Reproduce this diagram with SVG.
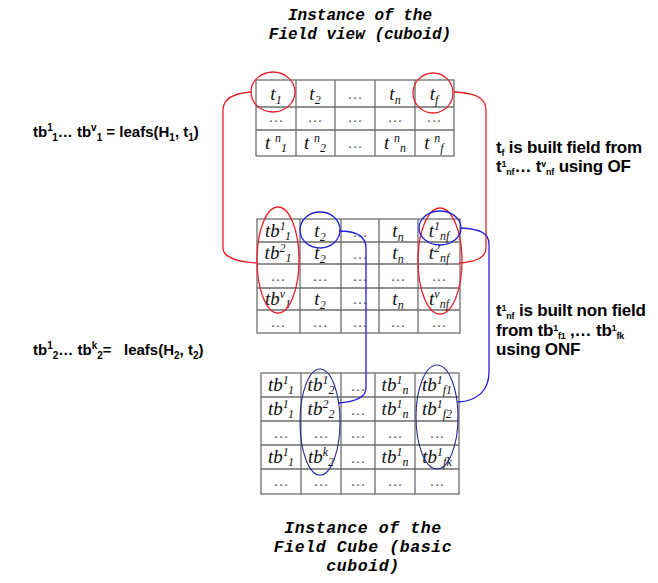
<svg xmlns="http://www.w3.org/2000/svg" width="658" height="583" viewBox="0 0 658 583">
<style>
.title{font-family:"Liberation Mono","Courier New",monospace;font-weight:bold;font-style:italic;font-size:16px;fill:#000;text-anchor:middle}
.tb{font-size:16.5px;letter-spacing:0.6px}
.lbl{font-family:"Liberation Sans",Arial,sans-serif;font-weight:bold;font-size:15px;fill:#000;white-space:pre}
.lr{font-size:17px;letter-spacing:-0.2px}
.s{font-size:10px}
.lr .s{font-size:9px}
.grid{fill:#fff;stroke:#6e6e6e;stroke-width:1.3}
.cell{font-family:"Liberation Serif","Times New Roman",serif;font-style:italic;font-size:19px;fill:#111;text-anchor:middle}
.cs{font-size:12px}
.dots{font-family:"Liberation Serif","Times New Roman",serif;font-size:15px;fill:#555;text-anchor:middle}
.red{fill:none;stroke:#e8202a;stroke-width:1.3}
.blue{fill:none;stroke:#2020d8;stroke-width:1.3}
.navy{fill:none;stroke:#2a2a90;stroke-width:1.1}
</style>

<g id="title-top">
<text class="title" x="360" y="20">Instance of the</text>
<text class="title" x="360" y="39">Field view (cuboid)</text>
</g>
<g id="title-bottom">
<text class="title tb" x="363" y="533">Instance of the</text>
<text class="title tb" x="363" y="552">Field Cube (basic</text>
<text class="title tb" x="363" y="571">cuboid)</text>
</g>

<g id="label-leafs1">
<text class="lbl" x="33" y="137">tb<tspan class="s" dy="-6">1</tspan><tspan class="s" dy="10">1</tspan><tspan dy="-4">… tb</tspan><tspan class="s" dy="-6">v</tspan><tspan class="s" dy="10">1</tspan><tspan dy="-4"> = leafs(H</tspan><tspan class="s" dy="4">1</tspan><tspan dy="-4">, t</tspan><tspan class="s" dy="4">1</tspan><tspan dy="-4">)</tspan></text>
</g>
<g id="label-leafs2">
<text class="lbl" x="33" y="355">tb<tspan class="s" dy="-6">1</tspan><tspan class="s" dy="10">2</tspan><tspan dy="-4">… tb</tspan><tspan class="s" dy="-6">k</tspan><tspan class="s" dy="10">2</tspan><tspan dy="-4">=   leafs(H</tspan><tspan class="s" dy="4">2</tspan><tspan dy="-4">, t</tspan><tspan class="s" dy="4">2</tspan><tspan dy="-4">)</tspan></text>
</g>
<g id="label-of">
<text class="lbl lr" x="496" y="153">t<tspan class="s" dy="3">f</tspan><tspan dy="-3"> is built field from</tspan></text>
<text class="lbl lr" x="496" y="172">t<tspan class="s" dy="-5">1</tspan><tspan class="s" dy="8">nf</tspan><tspan dy="-3">… t</tspan><tspan class="s" dy="-5">v</tspan><tspan class="s" dy="8">nf</tspan><tspan dy="-3"> using OF</tspan></text>
</g>
<g id="label-onf">
<text class="lbl lr" x="496" y="316">t<tspan class="s" dy="-5">1</tspan><tspan class="s" dy="8">nf</tspan><tspan dy="-3"> is built non field</tspan></text>
<text class="lbl lr" x="496" y="336">from tb<tspan class="s" dy="-5">1</tspan><tspan class="s" dy="8">f1</tspan><tspan dy="-3"> ,… tb</tspan><tspan class="s" dy="-5">1</tspan><tspan class="s" dy="8">fk</tspan></text>
<text class="lbl lr" x="496" y="355">using ONF</text>
</g>

<g id="table-top">
<rect class="grid" x="256" y="80" width="198" height="76"/>
<path class="grid" d="M256,107H454M256,130H454M296,80V156M335,80V156M375,80V156M415,80V156"/>
<text class="cell" x="276" y="100">t<tspan class="cs" dy="4">1</tspan></text>
<text class="cell" x="315" y="100">t<tspan class="cs" dy="4">2</tspan></text>
<text class="dots" x="355" y="99">…</text>
<text class="cell" x="395" y="100">t<tspan class="cs" dy="4">n</tspan></text>
<text class="cell" x="434" y="100">t<tspan class="cs" dy="4">f</tspan></text>
<text class="dots" x="276" y="122">…</text>
<text class="dots" x="315" y="122">…</text>
<text class="dots" x="355" y="122">…</text>
<text class="dots" x="395" y="122">…</text>
<text class="dots" x="434" y="122">…</text>
<text class="cell" x="276" y="149">t <tspan class="cs" dy="-7">n</tspan><tspan class="cs" dy="10">1</tspan></text>
<text class="cell" x="315" y="149">t <tspan class="cs" dy="-7">n</tspan><tspan class="cs" dy="10">2</tspan></text>
<text class="dots" x="355" y="148">…</text>
<text class="cell" x="395" y="149">t <tspan class="cs" dy="-7">n</tspan><tspan class="cs" dy="10">n</tspan></text>
<text class="cell" x="434" y="149">t <tspan class="cs" dy="-7">n</tspan><tspan class="cs" dy="10">f</tspan></text>
</g>

<g id="table-middle">
<rect class="grid" x="257" y="219" width="203" height="114"/>
<path class="grid" d="M257,242H460M257,264H460M257,288H460M257,310H460M300,219V333M341,219V333M379,219V333M418,219V333"/>
<text class="cell" x="278" y="237">tb<tspan class="cs" dy="-7">1</tspan><tspan class="cs" dy="10">1</tspan></text>
<text class="cell" x="320" y="237">t<tspan class="cs" dy="4">2</tspan></text>
<text class="dots" x="360" y="237">…</text>
<text class="cell" x="398" y="237">t<tspan class="cs" dy="4">n</tspan></text>
<text class="cell" x="439" y="237">t<tspan class="cs" dy="-7">1</tspan><tspan class="cs" dy="10">nf</tspan></text>
<text class="cell" x="278" y="259">tb<tspan class="cs" dy="-7">2</tspan><tspan class="cs" dy="10">1</tspan></text>
<text class="cell" x="320" y="259">t<tspan class="cs" dy="4">2</tspan></text>
<text class="dots" x="360" y="259">…</text>
<text class="cell" x="398" y="259">t<tspan class="cs" dy="4">n</tspan></text>
<text class="cell" x="439" y="259">t<tspan class="cs" dy="-7">2</tspan><tspan class="cs" dy="10">nf</tspan></text>
<text class="dots" x="278" y="281">…</text>
<text class="dots" x="320" y="281">…</text>
<text class="dots" x="360" y="281">…</text>
<text class="dots" x="398" y="281">…</text>
<text class="dots" x="439" y="281">…</text>
<text class="cell" x="278" y="305">tb<tspan class="cs" dy="-7">v</tspan><tspan class="cs" dy="10">1</tspan></text>
<text class="cell" x="320" y="305">t<tspan class="cs" dy="4">2</tspan></text>
<text class="dots" x="360" y="304">…</text>
<text class="cell" x="398" y="305">t<tspan class="cs" dy="4">n</tspan></text>
<text class="cell" x="439" y="305">t<tspan class="cs" dy="-7">v</tspan><tspan class="cs" dy="10">nf</tspan></text>
<text class="dots" x="278" y="327">…</text>
<text class="dots" x="320" y="327">…</text>
<text class="dots" x="360" y="327">…</text>
<text class="dots" x="398" y="327">…</text>
<text class="dots" x="439" y="327">…</text>
</g>

<g id="table-bottom">
<rect class="grid" x="261" y="373" width="198" height="121"/>
<path class="grid" d="M261,397H459M261,421H459M261,445H459M261,469H459M301,373V494M341,373V494M375,373V494M415,373V494"/>
<text class="cell" x="281" y="391">tb<tspan class="cs" dy="-7">1</tspan><tspan class="cs" dy="10">1</tspan></text>
<text class="cell" x="321" y="391">tb<tspan class="cs" dy="-7">1</tspan><tspan class="cs" dy="10">2</tspan></text>
<text class="dots" x="358" y="391">…</text>
<text class="cell" x="395" y="391">tb<tspan class="cs" dy="-7">1</tspan><tspan class="cs" dy="10">n</tspan></text>
<text class="cell" x="437" y="391">tb<tspan class="cs" dy="-7">1</tspan><tspan class="cs" dy="10">f1</tspan></text>
<text class="cell" x="281" y="415">tb<tspan class="cs" dy="-7">1</tspan><tspan class="cs" dy="10">1</tspan></text>
<text class="cell" x="321" y="415">tb<tspan class="cs" dy="-7">2</tspan><tspan class="cs" dy="10">2</tspan></text>
<text class="dots" x="358" y="415">…</text>
<text class="cell" x="395" y="415">tb<tspan class="cs" dy="-7">1</tspan><tspan class="cs" dy="10">n</tspan></text>
<text class="cell" x="437" y="415">tb<tspan class="cs" dy="-7">1</tspan><tspan class="cs" dy="10">f2</tspan></text>
<text class="dots" x="281" y="438">…</text>
<text class="dots" x="321" y="438">…</text>
<text class="dots" x="358" y="438">…</text>
<text class="dots" x="395" y="438">…</text>
<text class="dots" x="437" y="438">…</text>
<text class="cell" x="281" y="463">tb<tspan class="cs" dy="-7">1</tspan><tspan class="cs" dy="10">1</tspan></text>
<text class="cell" x="321" y="463">tb<tspan class="cs" dy="-7">k</tspan><tspan class="cs" dy="10">2</tspan></text>
<text class="dots" x="358" y="463">…</text>
<text class="cell" x="395" y="463">tb<tspan class="cs" dy="-7">1</tspan><tspan class="cs" dy="10">n</tspan></text>
<text class="cell" x="437" y="463">tb<tspan class="cs" dy="-7">1</tspan><tspan class="cs" dy="10">fk</tspan></text>
<text class="dots" x="281" y="486">…</text>
<text class="dots" x="321" y="486">…</text>
<text class="dots" x="358" y="486">…</text>
<text class="dots" x="395" y="486">…</text>
<text class="dots" x="437" y="486">…</text>
</g>

<g id="ellipses">
<ellipse class="red" cx="273" cy="92" rx="22" ry="20"/>
<ellipse class="red" cx="433" cy="93" rx="20" ry="20"/>
<ellipse class="red" cx="278" cy="260" rx="21" ry="53"/>
<ellipse class="red" cx="440" cy="261" rx="22" ry="53"/>
<ellipse class="blue" cx="320" cy="230" rx="20" ry="18"/>
<ellipse class="blue" cx="440" cy="228" rx="21" ry="17"/>
<ellipse class="navy" cx="320" cy="422" rx="20" ry="53"/>
<ellipse class="navy" cx="437" cy="417" rx="21" ry="52"/>
</g>

<g id="connectors">
<path class="red" d="M252,92 C234,93 223,98 223,110 L223,248 C223,258 240,262 257,263"/>
<path class="red" d="M454,92 C472,93 486,96 486,110 L486,248 C486,258 475,262 459,263"/>
<path class="blue" d="M461,228 C478,229 489,232 489,244 L489,372 C489,390 478,401 458,402"/>
<path class="blue" d="M339,231 C355,231 366,236 366,248 L366,388 C366,398 352,402 338,403"/>
</g>
</svg>
